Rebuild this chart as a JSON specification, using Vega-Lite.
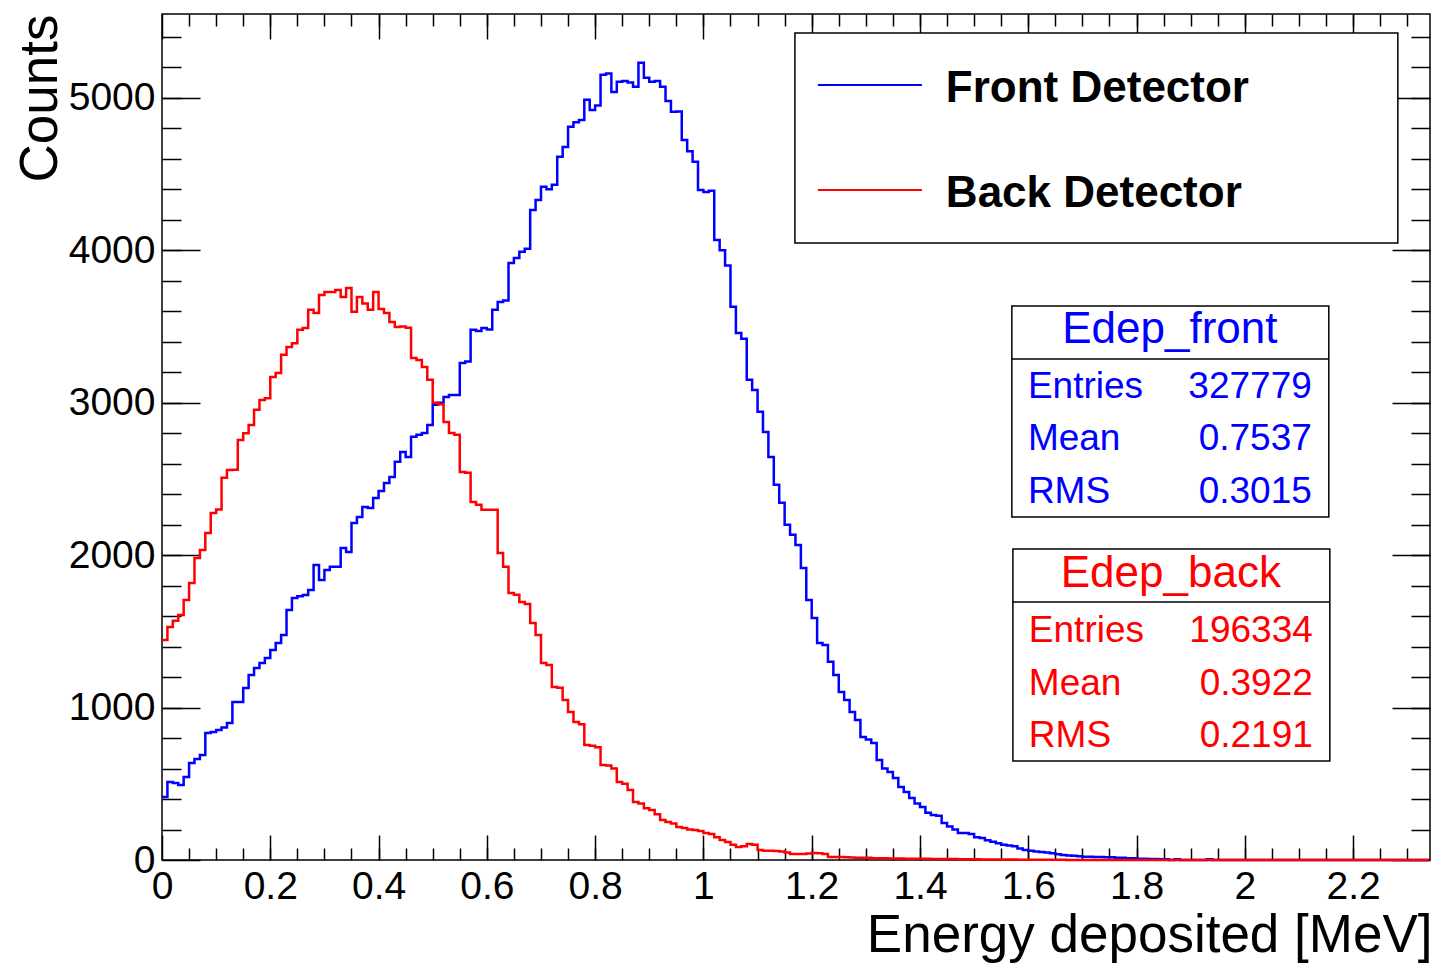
{
  "$schema": "https://vega.github.io/schema/vega-lite/v6.json",
  "width": 1268,
  "height": 846,
  "autosize": "none",
  "padding": {"left": 162, "top": 14, "right": 7, "bottom": 103},
  "background": "white",
  "config": {
    "view": {"stroke": "#000", "strokeWidth": 1.5},
    "font": "Liberation Sans",
    "axis": {"grid": false, "domain": false, "tickColor": "#000", "tickWidth": 1.5, "labelColor": "#000", "labelFont": "Liberation Sans", "labelFontSize": 39, "titleFont": "Liberation Sans", "titleColor": "#000", "titleFontWeight": "normal", "labelFlush": false, "labelOverlap": false}
  },
  "data": {"values": [
    {"e":0.00,"front":413,"back":1443},{"e":0.01,"front":512,"back":1529},{"e":0.02,"front":505,"back":1570},{"e":0.03,"front":492,"back":1608},{"e":0.04,"front":545,"back":1706},
    {"e":0.05,"front":636,"back":1818},{"e":0.06,"front":663,"back":1982},{"e":0.07,"front":689,"back":2034},{"e":0.08,"front":833,"back":2146},{"e":0.09,"front":840,"back":2277},
    {"e":0.10,"front":853,"back":2300},{"e":0.11,"front":870,"back":2507},{"e":0.12,"front":899,"back":2559},{"e":0.13,"front":1037,"back":2560},{"e":0.14,"front":1037,"back":2756},
    {"e":0.15,"front":1129,"back":2800},{"e":0.16,"front":1214,"back":2854},{"e":0.17,"front":1260,"back":2953},{"e":0.18,"front":1293,"back":3018},{"e":0.19,"front":1325,"back":3030},
    {"e":0.20,"front":1378,"back":3169},{"e":0.21,"front":1424,"back":3195},{"e":0.22,"front":1476,"back":3314},{"e":0.23,"front":1640,"back":3366},{"e":0.24,"front":1719,"back":3390},
    {"e":0.25,"front":1730,"back":3478},{"e":0.26,"front":1739,"back":3490},{"e":0.27,"front":1772,"back":3609},{"e":0.28,"front":1936,"back":3589},{"e":0.29,"front":1837,"back":3707},
    {"e":0.30,"front":1903,"back":3727},{"e":0.31,"front":1923,"back":3727},{"e":0.32,"front":1923,"back":3740},{"e":0.33,"front":2047,"back":3694},{"e":0.34,"front":2021,"back":3753},
    {"e":0.35,"front":2211,"back":3596},{"e":0.36,"front":2251,"back":3694},{"e":0.37,"front":2316,"back":3650},{"e":0.38,"front":2310,"back":3609},{"e":0.39,"front":2375,"back":3727},
    {"e":0.40,"front":2420,"back":3615},{"e":0.41,"front":2474,"back":3589},{"e":0.42,"front":2513,"back":3530},{"e":0.43,"front":2612,"back":3497},{"e":0.44,"front":2677,"back":3500},
    {"e":0.45,"front":2644,"back":3491},{"e":0.46,"front":2776,"back":3294},{"e":0.47,"front":2790,"back":3280},{"e":0.48,"front":2802,"back":3235},{"e":0.49,"front":2854,"back":3150},
    {"e":0.50,"front":2986,"back":2999},{"e":0.51,"front":3000,"back":2990},{"e":0.52,"front":3038,"back":2874},{"e":0.53,"front":3051,"back":2802},{"e":0.54,"front":3051,"back":2790},
    {"e":0.55,"front":3261,"back":2546},{"e":0.56,"front":3270,"back":2540},{"e":0.57,"front":3478,"back":2349},{"e":0.58,"front":3470,"back":2330},{"e":0.59,"front":3490,"back":2297},
    {"e":0.60,"front":3480,"back":2297},{"e":0.61,"front":3609,"back":2297},{"e":0.62,"front":3661,"back":2014},{"e":0.63,"front":3670,"back":1923},{"e":0.64,"front":3917,"back":1752},
    {"e":0.65,"front":3950,"back":1740},{"e":0.66,"front":3990,"back":1693},{"e":0.67,"front":4010,"back":1680},{"e":0.68,"front":4265,"back":1555},{"e":0.69,"front":4330,"back":1476},
    {"e":0.70,"front":4416,"back":1293},{"e":0.71,"front":4400,"back":1280},{"e":0.72,"front":4430,"back":1135},{"e":0.73,"front":4613,"back":1130},{"e":0.74,"front":4678,"back":1050},
    {"e":0.75,"front":4810,"back":971},{"e":0.76,"front":4840,"back":906},{"e":0.77,"front":4855,"back":890},{"e":0.78,"front":4987,"back":755},{"e":0.79,"front":4921,"back":750},
    {"e":0.80,"front":4950,"back":740},{"e":0.81,"front":5151,"back":623},{"e":0.82,"front":5160,"back":620},{"e":0.83,"front":5039,"back":600},{"e":0.84,"front":5105,"back":512},
    {"e":0.85,"front":5110,"back":500},{"e":0.86,"front":5100,"back":459},{"e":0.87,"front":5072,"back":381},{"e":0.88,"front":5230,"back":370},{"e":0.89,"front":5131,"back":340},
    {"e":0.90,"front":5105,"back":328},{"e":0.91,"front":5110,"back":300},{"e":0.92,"front":5072,"back":262},{"e":0.93,"front":4980,"back":250},{"e":0.94,"front":4908,"back":240},
    {"e":0.95,"front":4910,"back":217},{"e":0.96,"front":4724,"back":210},{"e":0.97,"front":4650,"back":200},{"e":0.98,"front":4580,"back":197},{"e":0.99,"front":4396,"back":190},
    {"e":1.00,"front":4383,"back":177},{"e":1.01,"front":4390,"back":170},{"e":1.02,"front":4068,"back":150},{"e":1.03,"front":4000,"back":131},{"e":1.04,"front":3900,"back":118},
    {"e":1.05,"front":3629,"back":100},{"e":1.06,"front":3458,"back":85},{"e":1.07,"front":3420,"back":90},{"e":1.08,"front":3150,"back":105},{"e":1.09,"front":3084,"back":100},
    {"e":1.10,"front":2940,"back":66},{"e":1.11,"front":2808,"back":60},{"e":1.12,"front":2644,"back":60},{"e":1.13,"front":2461,"back":59},{"e":1.14,"front":2343,"back":55},
    {"e":1.15,"front":2200,"back":50},{"e":1.16,"front":2133,"back":39},{"e":1.17,"front":2067,"back":39},{"e":1.18,"front":1916,"back":39},{"e":1.19,"front":1706,"back":42},
    {"e":1.20,"front":1588,"back":46},{"e":1.21,"front":1424,"back":44},{"e":1.22,"front":1411,"back":40},{"e":1.23,"front":1300,"back":20},{"e":1.24,"front":1214,"back":20},
    {"e":1.25,"front":1102,"back":20},{"e":1.26,"front":1050,"back":18},{"e":1.27,"front":971,"back":16},{"e":1.28,"front":919,"back":15},{"e":1.29,"front":807,"back":15},
    {"e":1.30,"front":790,"back":14},{"e":1.31,"front":768,"back":12},{"e":1.32,"front":656,"back":12},{"e":1.33,"front":600,"back":11},{"e":1.34,"front":577,"back":10},
    {"e":1.35,"front":538,"back":10},{"e":1.36,"front":479,"back":10},{"e":1.37,"front":446,"back":9},{"e":1.38,"front":407,"back":9},{"e":1.39,"front":370,"back":8},
    {"e":1.40,"front":348,"back":8},{"e":1.41,"front":310,"back":8},{"e":1.42,"front":295,"back":7},{"e":1.43,"front":290,"back":7},{"e":1.44,"front":243,"back":6},
    {"e":1.45,"front":220,"back":6},{"e":1.46,"front":200,"back":6},{"e":1.47,"front":177,"back":5},{"e":1.48,"front":177,"back":5},{"e":1.49,"front":170,"back":5},
    {"e":1.50,"front":150,"back":5},{"e":1.51,"front":144,"back":4},{"e":1.52,"front":130,"back":4},{"e":1.53,"front":120,"back":4},{"e":1.54,"front":110,"back":3},
    {"e":1.55,"front":100,"back":3},{"e":1.56,"front":95,"back":3},{"e":1.57,"front":90,"back":3},{"e":1.58,"front":75,"back":2},{"e":1.59,"front":66,"back":2},
    {"e":1.60,"front":60,"back":2},{"e":1.61,"front":55,"back":2},{"e":1.62,"front":52,"back":1},{"e":1.63,"front":50,"back":1},{"e":1.64,"front":45,"back":1},
    {"e":1.65,"front":38,"back":1},{"e":1.66,"front":33,"back":1},{"e":1.67,"front":30,"back":0},{"e":1.68,"front":28,"back":0},{"e":1.69,"front":25,"back":0},
    {"e":1.70,"front":22,"back":0},{"e":1.72,"front":20,"back":0},{"e":1.74,"front":18,"back":0},{"e":1.76,"front":15,"back":0},{"e":1.78,"front":12,"back":0},
    {"e":1.80,"front":8,"back":0},{"e":1.82,"front":6,"back":0},{"e":1.84,"front":5,"back":0},{"e":1.86,"front":0,"back":0},{"e":1.87,"front":5,"back":0},
    {"e":1.88,"front":0,"back":0},{"e":1.93,"front":5,"back":0},{"e":1.94,"front":0,"back":0},{"e":2.34,"front":0,"back":0}
  ]},
  "resolve": {"axis": {"x": "independent", "y": "independent"}},
  "layer": [
    {
      "mark": {"type": "line", "interpolate": "step-after", "color": "#0000ff", "strokeWidth": 2.5},
      "encoding": {
        "x": {"field": "e", "type": "quantitative", "scale": {"domain": [0, 2.342], "nice": false, "zero": false},
          "axis": {"orient": "bottom", "values": [0,0.2,0.4,0.6,0.8,1,1.2,1.4,1.6,1.8,2,2.2], "format": "~g", "tickSize": -25, "labelPadding": 32,
            "title": "Energy deposited [MeV]", "titleFontSize": 53, "titleX": 1270, "titleY": 91, "titleAlign": "right", "titleBaseline": "alphabetic", "titleAnchor": "end"}},
        "y": {"field": "front", "type": "quantitative", "scale": {"domain": [0, 5550], "nice": false, "zero": true},
          "axis": {"orient": "left", "values": [0,1000,2000,3000,4000,5000], "format": "d", "tickSize": -38, "labelPadding": 45,
            "title": "Counts", "titleFontSize": 53, "titleX": -106, "titleY": 0, "titleAngle": 270, "titleAlign": "right", "titleBaseline": "alphabetic", "titleAnchor": "end"}}
      }
    },
    {
      "mark": {"type": "line", "interpolate": "step-after", "color": "#ff0000", "strokeWidth": 2.5},
      "encoding": {
        "x": {"field": "e", "type": "quantitative",
          "axis": {"orient": "bottom", "values": [0.05,0.1,0.15,0.2,0.25,0.3,0.35,0.4,0.45,0.5,0.55,0.6,0.65,0.7,0.75,0.8,0.85,0.9,0.95,1,1.05,1.1,1.15,1.2,1.25,1.3,1.35,1.4,1.45,1.5,1.55,1.6,1.65,1.7,1.75,1.8,1.85,1.9,1.95,2,2.05,2.1,2.15,2.2,2.25,2.3], "tickSize": -12, "labels": false, "title": null}},
        "y": {"field": "back", "type": "quantitative",
          "axis": {"orient": "left", "values": [200,400,600,800,1000,1200,1400,1600,1800,2000,2200,2400,2600,2800,3000,3200,3400,3600,3800,4000,4200,4400,4600,4800,5000,5200,5400], "tickSize": -19, "labels": false, "title": null}}
      }
    },
    {
      "data": {"values": [{}]},
      "mark": {"type": "point", "opacity": 0, "size": 0},
      "encoding": {
        "x": {"datum": 0, "type": "quantitative", "axis": {"orient": "top", "values": [0,0.2,0.4,0.6,0.8,1,1.2,1.4,1.6,1.8,2,2.2], "tickSize": -25, "labels": false, "title": null}},
        "y": {"datum": 0, "type": "quantitative", "axis": {"orient": "right", "values": [0,1000,2000,3000,4000,5000], "tickSize": -38, "labels": false, "title": null}}
      }
    },
    {
      "data": {"values": [{}]},
      "mark": {"type": "point", "opacity": 0, "size": 0},
      "encoding": {
        "x": {"datum": 0, "type": "quantitative", "axis": {"orient": "top", "values": [0.05,0.1,0.15,0.2,0.25,0.3,0.35,0.4,0.45,0.5,0.55,0.6,0.65,0.7,0.75,0.8,0.85,0.9,0.95,1,1.05,1.1,1.15,1.2,1.25,1.3,1.35,1.4,1.45,1.5,1.55,1.6,1.65,1.7,1.75,1.8,1.85,1.9,1.95,2,2.05,2.1,2.15,2.2,2.25,2.3], "tickSize": -12, "labels": false, "title": null}},
        "y": {"datum": 0, "type": "quantitative", "axis": {"orient": "right", "values": [200,400,600,800,1000,1200,1400,1600,1800,2000,2200,2400,2600,2800,3000,3200,3400,3600,3800,4000,4200,4400,4600,4800,5000,5200,5400], "tickSize": -19, "labels": false, "title": null}}
      }
    },
    {
      "data": {"values": [{}]},
      "mark": {"type": "rect", "fill": "white", "stroke": "#000", "strokeWidth": 1.5},
      "encoding": {
        "x": {"datum": 1.169, "type": "quantitative", "axis": null}, "x2": {"datum": 2.2826},
        "y": {"datum": 5425.4, "type": "quantitative", "axis": null}, "y2": {"datum": 4047.7}
      }
    },
    {
      "data": {"values": [{}]},
      "mark": {"type": "rule", "color": "#0000ff", "strokeWidth": 2},
      "encoding": {
        "x": {"datum": 1.2114, "type": "quantitative", "axis": null}, "x2": {"datum": 1.4035},
        "y": {"datum": 5084.2, "type": "quantitative", "axis": null}
      }
    },
    {
      "data": {"values": [{}]},
      "mark": {"type": "rule", "color": "#ff0000", "strokeWidth": 2},
      "encoding": {
        "x": {"datum": 1.2114, "type": "quantitative", "axis": null}, "x2": {"datum": 1.4035},
        "y": {"datum": 4395.4, "type": "quantitative", "axis": null}
      }
    },
    {
      "data": {"values": [{}]},
      "mark": {"type": "text", "font": "Liberation Sans", "fontSize": 44, "fontWeight": "bold", "color": "#000", "align": "left", "baseline": "alphabetic"},
      "encoding": {
        "x": {"datum": 1.4478, "type": "quantitative", "axis": null},
        "y": {"datum": 4972.7, "type": "quantitative", "axis": null},
        "text": {"value": "Front Detector"}
      }
    },
    {
      "data": {"values": [{}]},
      "mark": {"type": "text", "font": "Liberation Sans", "fontSize": 44, "fontWeight": "bold", "color": "#000", "align": "left", "baseline": "alphabetic"},
      "encoding": {
        "x": {"datum": 1.4478, "type": "quantitative", "axis": null},
        "y": {"datum": 4283.9, "type": "quantitative", "axis": null},
        "text": {"value": "Back Detector"}
      }
    },
    {
      "data": {"values": [{}]},
      "mark": {"type": "rect", "fill": "white", "stroke": "#000", "strokeWidth": 1.5},
      "encoding": {
        "x": {"datum": 1.5697, "type": "quantitative", "axis": null}, "x2": {"datum": 2.1551},
        "y": {"datum": 3634.4, "type": "quantitative", "axis": null}, "y2": {"datum": 2250.2}
      }
    },
    {
      "data": {"values": [{}]},
      "mark": {"type": "rule", "color": "#000", "strokeWidth": 1.5},
      "encoding": {
        "x": {"datum": 1.5697, "type": "quantitative", "axis": null}, "x2": {"datum": 2.1551},
        "y": {"datum": 3286.7, "type": "quantitative", "axis": null}
      }
    },
    {
      "data": {"values": [{}]},
      "mark": {"type": "text", "font": "Liberation Sans", "fontSize": 44, "color": "#0000ff", "align": "center", "baseline": "alphabetic"},
      "encoding": {
        "x": {"datum": 1.8615, "type": "quantitative", "axis": null},
        "y": {"datum": 3391.7, "type": "quantitative", "axis": null},
        "text": {"value": "Edep_front"}
      }
    },
    {
      "data": {"values": [{}]},
      "mark": {"type": "text", "font": "Liberation Sans", "fontSize": 37, "color": "#0000ff", "align": "left", "baseline": "alphabetic", "lineHeight": 52.5},
      "encoding": {
        "x": {"datum": 1.5993, "type": "quantitative", "axis": null},
        "y": {"datum": 3030.9, "type": "quantitative", "axis": null},
        "text": {"value": ["Entries", "Mean", "RMS"]}
      }
    },
    {
      "data": {"values": [{}]},
      "mark": {"type": "text", "font": "Liberation Sans", "fontSize": 37, "color": "#0000ff", "align": "right", "baseline": "alphabetic", "lineHeight": 52.5},
      "encoding": {
        "x": {"datum": 2.1237, "type": "quantitative", "axis": null},
        "y": {"datum": 3030.9, "type": "quantitative", "axis": null},
        "text": {"value": ["327779", "0.7537", "0.3015"]}
      }
    },
    {
      "data": {"values": [{}]},
      "mark": {"type": "rect", "fill": "white", "stroke": "#000", "strokeWidth": 1.5},
      "encoding": {
        "x": {"datum": 1.5716, "type": "quantitative", "axis": null}, "x2": {"datum": 2.157},
        "y": {"datum": 2040.3, "type": "quantitative", "axis": null}, "y2": {"datum": 649.5}
      }
    },
    {
      "data": {"values": [{}]},
      "mark": {"type": "rule", "color": "#000", "strokeWidth": 1.5},
      "encoding": {
        "x": {"datum": 1.5716, "type": "quantitative", "axis": null}, "x2": {"datum": 2.157},
        "y": {"datum": 1692.6, "type": "quantitative", "axis": null}
      }
    },
    {
      "data": {"values": [{}]},
      "mark": {"type": "text", "font": "Liberation Sans", "fontSize": 44, "color": "#ff0000", "align": "center", "baseline": "alphabetic"},
      "encoding": {
        "x": {"datum": 1.8633, "type": "quantitative", "axis": null},
        "y": {"datum": 1791.0, "type": "quantitative", "axis": null},
        "text": {"value": "Edep_back"}
      }
    },
    {
      "data": {"values": [{}]},
      "mark": {"type": "text", "font": "Liberation Sans", "fontSize": 37, "color": "#ff0000", "align": "left", "baseline": "alphabetic", "lineHeight": 52.5},
      "encoding": {
        "x": {"datum": 1.6011, "type": "quantitative", "axis": null},
        "y": {"datum": 1430.1, "type": "quantitative", "axis": null},
        "text": {"value": ["Entries", "Mean", "RMS"]}
      }
    },
    {
      "data": {"values": [{}]},
      "mark": {"type": "text", "font": "Liberation Sans", "fontSize": 37, "color": "#ff0000", "align": "right", "baseline": "alphabetic", "lineHeight": 52.5},
      "encoding": {
        "x": {"datum": 2.1256, "type": "quantitative", "axis": null},
        "y": {"datum": 1430.1, "type": "quantitative", "axis": null},
        "text": {"value": ["196334", "0.3922", "0.2191"]}
      }
    }
  ]
}
